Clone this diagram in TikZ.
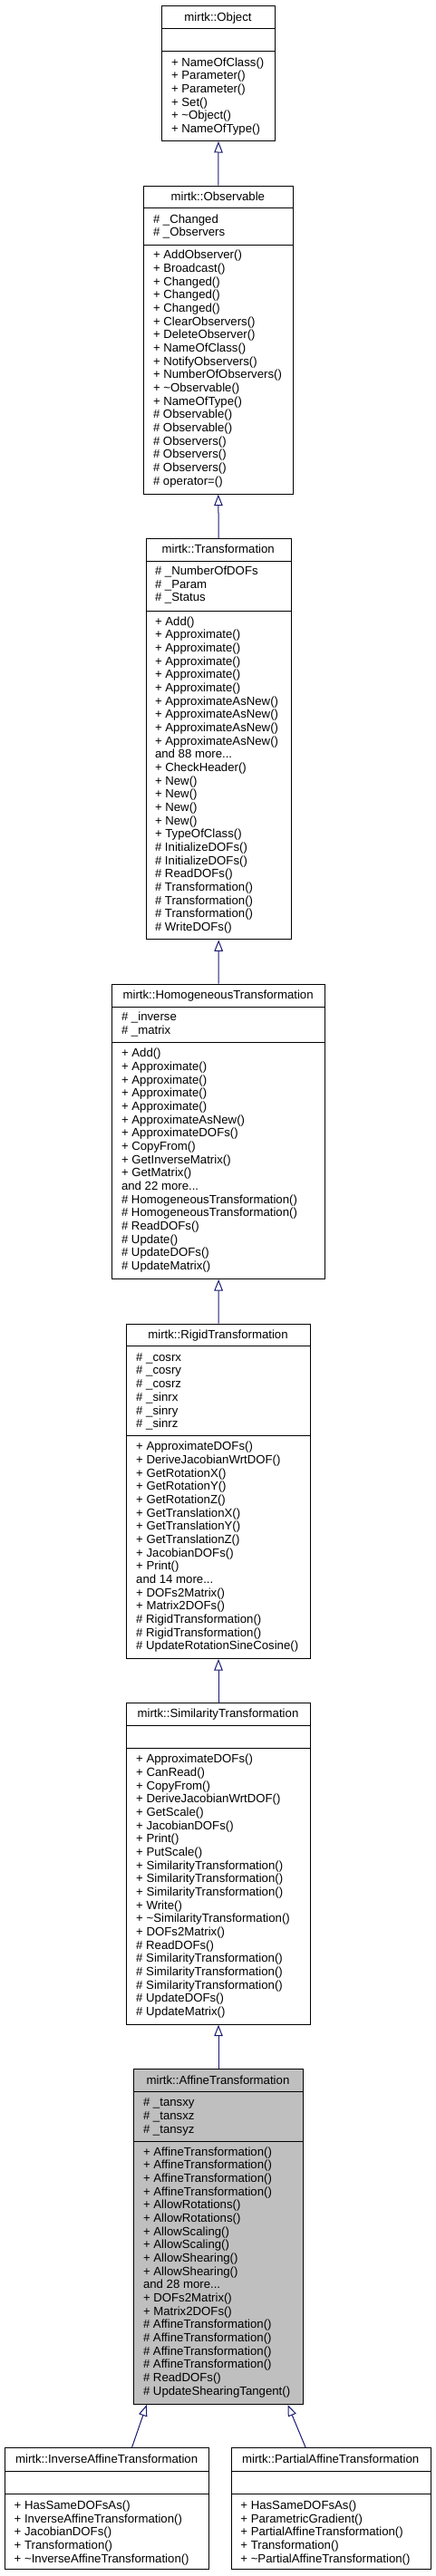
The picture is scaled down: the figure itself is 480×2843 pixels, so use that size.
\documentclass[tikz,border=0pt]{standalone}
\usepackage{fontspec}
\setmainfont{Liberation Sans}
\usetikzlibrary{arrows.meta,calc}
\definecolor{edgeblue}{RGB}{25,25,112}
\definecolor{curgray}{RGB}{191,191,191}
\newcommand{\tdots}{...}
\tikzset{
  classbox/.style={draw=black, line width=1pt, fill=white, inner sep=0pt},
  sepline/.style={draw=black, line width=1pt},
  titletext/.style={inner sep=0pt, font=\fontsize{13.2}{14.67}\selectfont},
  itemtext/.style={inner sep=0pt, font=\fontsize{13.2}{14.67}\selectfont},
  inherit/.style={draw=edgeblue, line width=1pt, -{Triangle[open, length=12.5pt, width=9.5pt, fill=white]}}
}
\newcommand{\umlbox}[9]{%
  \node[classbox,#8,minimum width={#3-#2}, minimum height={#7-#4}, anchor=north west] (#1) at (#2,#4) {};
  \draw[sepline] (#2,#5) -- (#3,#5);
  \draw[sepline] (#2,#6) -- (#3,#6);
  \node[titletext, anchor=base] (#1-title) at ({(#2+#3)/2},{(#4+#5)/2+4.3}) {#9};
}
\newcommand{\umllines}[4]{%
  \foreach \ln [count=\k from 0] in {#4} {%
    \node[itemtext, anchor=base west] (#1-\k) at (#2, {#3+\k*14.67}) {\ln};
  }%
}
\begin{document}
\begin{tikzpicture}[x=1pt, y=-1pt]
\useasboundingbox (0,0) rectangle (480,2843);

% Object
\umlbox{obj}{178}{303}{5.7}{31.7}{56.7}{155}{}{mirtk::Object}
\umllines{obj-m}{188.8}{73}{+ NameOfClass(), + Parameter(), + Parameter(), + Set(), + \textasciitilde Object(), + NameOfType()}

% Observable
\umlbox{obs}{157.7}{323}{204.7}{229.7}{270}{544.7}{}{mirtk::Observable}
\umllines{obs-a}{168.8}{246.3}{\# \_Changed, \# \_Observers}
\umllines{obs-m}{168.8}{285.8}{+ AddObserver(), + Broadcast(), + Changed(), + Changed(), + Changed(), + ClearObservers(), + DeleteObserver(), + NameOfClass(), + NotifyObservers(), + NumberOfObservers(), + \textasciitilde Observable(), + NameOfType(), \# Observable(), \# Observable(), \# Observers(), \# Observers(), \# Observers(), \# operator=()}

% Transformation
\umlbox{tra}{160.7}{320.7}{594}{619}{674}{1036.3}{}{mirtk::Transformation}
\umllines{tra-a}{170.8}{634.5}{\# \_NumberOfDOFs, \# \_Param, \# \_Status}
\umllines{tra-m}{170.8}{690}{+ Add(), + Approximate(), + Approximate(), + Approximate(), + Approximate(), + Approximate(), + ApproximateAsNew(), + ApproximateAsNew(), + ApproximateAsNew(), + ApproximateAsNew(), and 88 more\tdots, + CheckHeader(), + New(), + New(), + New(), + New(), + TypeOfClass(), \# InitializeDOFs(), \# InitializeDOFs(), \# ReadDOFs(), \# Transformation(), \# Transformation(), \# Transformation(), \# WriteDOFs()}

% HomogeneousTransformation
\umlbox{hom}{123.3}{358}{1085.7}{1111.3}{1150.7}{1411}{}{mirtk::HomogeneousTransformation}
\umllines{hom-a}{133.8}{1126.8}{\# \_inverse, \# \_matrix}
\umllines{hom-m}{133.8}{1166.7}{+ Add(), + Approximate(), + Approximate(), + Approximate(), + Approximate(), + ApproximateAsNew(), + ApproximateDOFs(), + CopyFrom(), + GetInverseMatrix(), + GetMatrix(), and 22 more\tdots, \# HomogeneousTransformation(), \# HomogeneousTransformation(), \# ReadDOFs(), \# Update(), \# UpdateDOFs(), \# UpdateMatrix()}

% RigidTransformation
\umlbox{rig}{139}{342}{1460.7}{1485.3}{1584.7}{1830}{}{mirtk::RigidTransformation}
\umllines{rig-a}{150}{1502.3}{\# \_cosrx, \# \_cosry, \# \_cosrz, \# \_sinrx, \# \_sinry, \# \_sinrz}
\umllines{rig-m}{150}{1600.7}{+ ApproximateDOFs(), + DeriveJacobianWrtDOF(), + GetRotationX(), + GetRotationY(), + GetRotationZ(), + GetTranslationX(), + GetTranslationY(), + GetTranslationZ(), + JacobianDOFs(), + Print(), and 14 more\tdots, + DOFs2Matrix(), + Matrix2DOFs(), \# RigidTransformation(), \# RigidTransformation(), \# UpdateRotationSineCosine()}

% SimilarityTransformation
\umlbox{sim}{139}{342}{1879}{1904.3}{1929.7}{2233.7}{}{mirtk::SimilarityTransformation}
\umllines{sim-m}{150}{1945.9}{+ ApproximateDOFs(), + CanRead(), + CopyFrom(), + DeriveJacobianWrtDOF(), + GetScale(), + JacobianDOFs(), + Print(), + PutScale(), + SimilarityTransformation(), + SimilarityTransformation(), + SimilarityTransformation(), + Write(), + \textasciitilde SimilarityTransformation(), + DOFs2Matrix(), \# ReadDOFs(), \# SimilarityTransformation(), \# SimilarityTransformation(), \# SimilarityTransformation(), \# UpdateDOFs(), \# UpdateMatrix()}

% AffineTransformation
\umlbox{aff}{147.3}{333.7}{2283.3}{2308.7}{2363}{2653}{fill=curgray}{mirtk::AffineTransformation}
\umllines{aff-a}{157.8}{2324.9}{\# \_tansxy, \# \_tansxz, \# \_tansyz}
\umllines{aff-m}{157.8}{2379}{+ AffineTransformation(), + AffineTransformation(), + AffineTransformation(), + AffineTransformation(), + AllowRotations(), + AllowRotations(), + AllowScaling(), + AllowScaling(), + AllowShearing(), + AllowShearing(), and 28 more\tdots, + DOFs2Matrix(), + Matrix2DOFs(), \# AffineTransformation(), \# AffineTransformation(), \# AffineTransformation(), \# AffineTransformation(), \# ReadDOFs(), \# UpdateShearingTangent()}

% InverseAffineTransformation
\umlbox{inv}{5}{230.3}{2701.3}{2727}{2752.7}{2835.3}{}{mirtk::InverseAffineTransformation}
\umllines{inv-m}{15.5}{2769.5}{+ HasSameDOFsAs(), + InverseAffineTransformation(), + JacobianDOFs(), + Transformation(), + \textasciitilde InverseAffineTransformation()}

% PartialAffineTransformation
\umlbox{par}{254.7}{474.7}{2701.3}{2727}{2752.7}{2835.3}{}{mirtk::PartialAffineTransformation}
\umllines{par-m}{265.2}{2769.5}{+ HasSameDOFsAs(), + ParametricGradient(), + PartialAffineTransformation(), + Transformation(), + \textasciitilde PartialAffineTransformation()}

% inheritance connectors
\draw[inherit] (obs.north) -- (obj.south);
\draw[inherit] (tra.north) -- (obs.south);
\draw[inherit] (hom.north) -- (tra.south);
\draw[inherit] (rig.north) -- (hom.south);
\draw[inherit] (sim.north) -- (rig.south);
\draw[inherit] (aff.north) -- (sim.south);
\draw[inherit] ([xshift=27.3pt]inv.north) -- ([xshift=-79.2pt]aff.south);
\draw[inherit] ([xshift=-28pt]par.north) -- ([xshift=76.5pt]aff.south);
\end{tikzpicture}
\end{document}
